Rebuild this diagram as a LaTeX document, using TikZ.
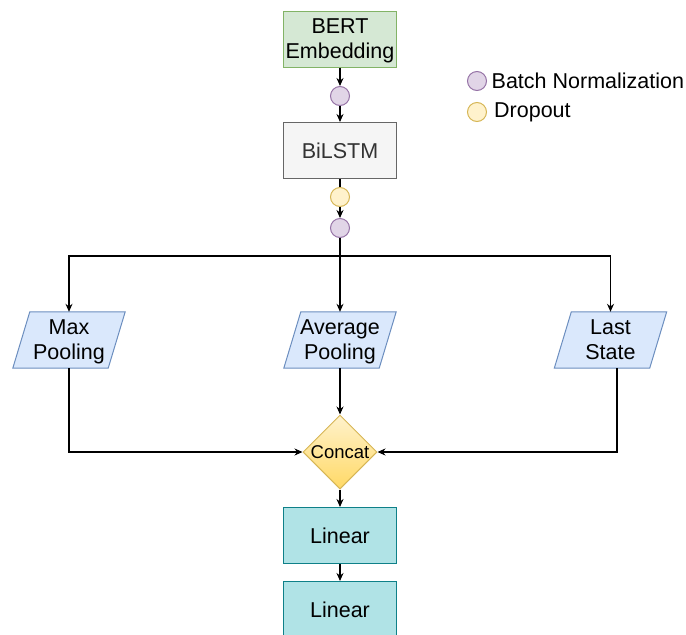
\documentclass[tikz,border=0pt]{standalone}
\usepackage{fontspec}
\setmainfont{Liberation Sans}
\usetikzlibrary{shapes.geometric,arrows.meta,backgrounds}
\definecolor{bertfill}{HTML}{D5E8D4}
\definecolor{bertdraw}{HTML}{82B366}
\definecolor{bnfill}{HTML}{E1D5E7}
\definecolor{bndraw}{HTML}{9673A6}
\definecolor{lstmfill}{HTML}{F5F5F5}
\definecolor{lstmdraw}{HTML}{666666}
\definecolor{lstmtext}{HTML}{333333}
\definecolor{dofill}{HTML}{FFF2CC}
\definecolor{dodraw}{HTML}{D6B656}
\definecolor{parafill}{HTML}{DAE8FC}
\definecolor{paradraw}{HTML}{6C8EBF}
\definecolor{cctop}{HTML}{FFF2CC}
\definecolor{ccbot}{HTML}{FFD966}
\definecolor{linfill}{HTML}{B0E3E6}
\definecolor{lindraw}{HTML}{0E8088}
\begin{document}
\begin{tikzpicture}[x=1pt,y=-1pt,
  font=\fontsize{21.5}{25}\selectfont,
  box/.style={rectangle, minimum width=113pt, minimum height=56pt, inner sep=0pt, align=center, line width=1pt, text depth=0pt},
  dot/.style={circle, minimum size=19pt, inner sep=0pt, line width=1pt},
  bnstyle/.style={dot, fill=bnfill, draw=bndraw},
  dostyle/.style={dot, fill=dofill, draw=dodraw},
  para/.style={rectangle, minimum width=112pt, minimum height=56pt, inner sep=0pt, align=center, text depth=0pt},
  arr/.style={-{Stealth[length=8pt,width=7pt]}, line width=1.2pt},
  ln/.style={line width=1.2pt}]
\useasboundingbox (0,0) rectangle (686,635);

% main chain
\node[box, fill=bertfill, draw=bertdraw] (bert) at (340,39) {BERT\\Embedding};
\node[bnstyle] (bn1) at (340,96) {};
\node[box, fill=lstmfill, draw=lstmdraw, text=lstmtext] (lstm) at (340,150.5) {BiLSTM};
\node[dostyle] (do) at (340,197) {};
\node[bnstyle] (bn2) at (340,228) {};
\coordinate (split) at (340,256);

% pooling
\node[para] (mp) at (69,340) {Max\\Pooling};
\node[para] (ap) at (340,340) {Average\\Pooling};
\node[para] (ls) at (610.5,340) {Last\\State};
\begin{pgfonlayer}{background}
\foreach \n in {mp,ap,ls}{
  \filldraw[fill=parafill, draw=paradraw, line width=1pt]
    ([xshift=17pt]\n.north west) -- (\n.north east) -- ([xshift=-17pt]\n.south east) -- (\n.south west) -- cycle;
}
\end{pgfonlayer}

\node[diamond, aspect=1, minimum width=74pt, minimum height=74pt, inner sep=0pt,
      draw=dodraw, line width=1pt, top color=cctop, bottom color=ccbot,
      font=\fontsize{18.5}{21}\selectfont] (cc) at (340,452) {Concat};

\node[box, fill=linfill, draw=lindraw] (lin1) at (340,535.5) {Linear};
\node[box, fill=linfill, draw=lindraw] (lin2) at (340,609.5) {Linear};

% legend
\node[bnstyle] (lbn) at (477,81) {};
\node[anchor=west, inner sep=0pt] (lbnt) at (491.5,81) {Batch Normalization};
\node[dostyle] (ldo) at (477,112) {};
\node[anchor=west, inner sep=0pt] (ldot) at (494,112) {Dropout};

% connectors
\draw[arr] (bert) -- (bn1);
\draw[arr] (bn1) -- (lstm);
\draw[ln] (lstm) -- (do);
\draw[arr] (do) -- (bn2);
\draw[ln] (bn2.south) -- (split);
\draw[arr] (split) -| (mp.north);
\draw[arr] (split) -- (ap.north);
\draw[arr] (split) -| (ls.north);
\draw[arr] (mp.south) |- (cc.west);
\draw[arr] (ap.south) -- (cc.north);
\draw[arr] ([xshift=6.5pt]ls.south) |- (cc.east);
\draw[arr] (cc.south) -- (lin1.north);
\draw[arr] (lin1) -- (lin2);
\end{tikzpicture}
\end{document}
